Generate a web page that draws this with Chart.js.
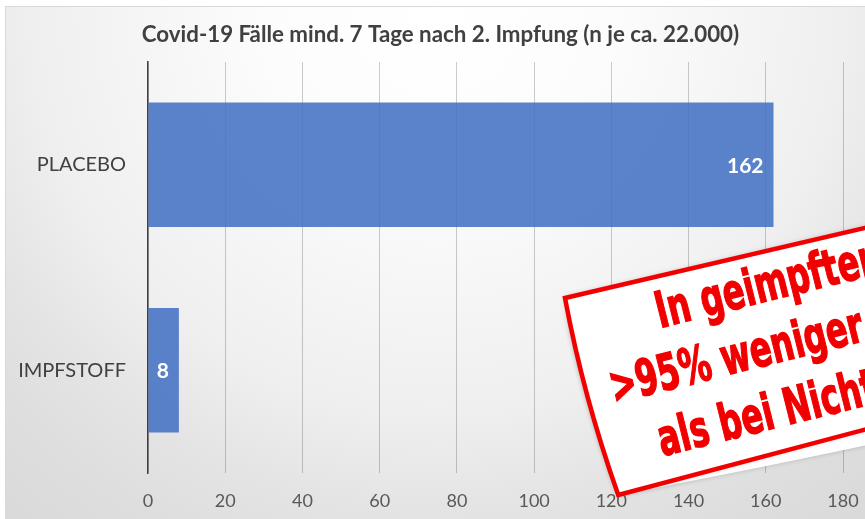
<!DOCTYPE html>
<html>
<head>
<meta charset="utf-8">
<script src="https://cdn.jsdelivr.net/npm/chart.js@4"></script>
<style>
  html, body { margin: 0; padding: 0; overflow: hidden; background: #fff; }
  #frame { position: absolute; left: 5px; top: 6px; width: 880px; height: 520px; border: 1px solid #d9d9d9; }
</style>
</head>
<body>
<div id="frame"><canvas id="chart" width="880" height="520"></canvas></div>
<script>
const categories = ['PLACEBO', 'IMPFSTOFF'];
const cases = [162, 8];
const xTicks = [0, 20, 40, 60, 80, 100, 120, 140, 160, 180];
const chartTitle = 'Covid-19 Fälle mind. 7 Tage nach 2. Impfung (n je ca. 22.000)';
const stampLines = ['In geimpfter', '>95% weniger', 'als bei Nicht'];

// light radial background like the office chart style
const backgroundPlugin = {
  id: 'bg',
  beforeDraw(chart) {
    const ctx = chart.ctx;
    const w = chart.width, h = chart.height;
    const g = ctx.createRadialGradient(w * 0.49, 0, 0, w * 0.49, 0, 700);
    g.addColorStop(0, '#ffffff');
    g.addColorStop(0.25, '#fcfcfc');
    g.addColorStop(0.58, '#efefef');
    g.addColorStop(0.72, '#e4e4e4');
    g.addColorStop(0.83, '#dedede');
    g.addColorStop(1, '#d8d8d8');
    ctx.save();
    ctx.fillStyle = g;
    ctx.fillRect(0, 0, w, h);
    ctx.restore();
  }
};

// title centred on the whole frame, not on the plot
const titlePlugin = {
  id: 'frameTitle',
  afterDraw(chart) {
    const ctx = chart.ctx;
    ctx.save();
    ctx.font = 'bold 22.3px Lato';
    ctx.fillStyle = '#404040';
    ctx.textAlign = 'center';
    ctx.textBaseline = 'middle';
    ctx.fillText(chartTitle, chart.width / 2 - 5.5, chart.chartArea.top - 27.5);
    ctx.restore();
  }
};

// value labels inside the bar end
const valueLabels = {
  id: 'valueLabels',
  afterDatasetsDraw(chart) {
    const ctx = chart.ctx;
    const meta = chart.getDatasetMeta(0);
    ctx.save();
    ctx.font = 'bold 21px Lato';
    ctx.fillStyle = '#ffffff';
    ctx.textAlign = 'right';
    ctx.textBaseline = 'middle';
    meta.data.forEach((bar, i) => {
      ctx.fillText(String(cases[i]), bar.x - 10, bar.y + 1);
    });
    ctx.restore();
  }
};

// the red "stamp" pasted over the lower right corner
const stampPlugin = {
  id: 'stamp',
  afterDraw(chart) {
    const ctx = chart.ctx;
    const area = chart.chartArea;
    ctx.save();
    ctx.translate(area.left + 417, area.top + 236);
    ctx.rotate(-14 * Math.PI / 180);

    // curled paper edge below the stamp
    ctx.beginPath();
    ctx.moveTo(4, 204);
    ctx.quadraticCurveTo(-8, 100, -2, 10);
    ctx.lineTo(4, 204);
    ctx.moveTo(4, 204);
    ctx.quadraticCurveTo(200, 215, 340, 218);
    ctx.lineTo(340, 199);
    ctx.closePath();
    ctx.shadowColor = 'rgba(0,0,0,0.2)';
    ctx.shadowBlur = 5;
    ctx.fillStyle = '#ffffff';
    ctx.fill();

    ctx.beginPath();
    ctx.moveTo(0, 0);
    ctx.lineTo(340, 5);
    ctx.lineTo(340, 199);
    ctx.lineTo(4, 204);
    ctx.quadraticCurveTo(-6, 100, 0, 0);
    ctx.closePath();
    ctx.shadowColor = 'rgba(0,0,0,0.25)';
    ctx.shadowBlur = 6;
    ctx.fill();
    ctx.shadowColor = 'transparent';
    ctx.lineWidth = 4.5;
    ctx.strokeStyle = '#f20000';
    ctx.stroke();

    ctx.fillStyle = '#f20000';
    ctx.strokeStyle = '#f20000';
    ctx.lineWidth = 1.5;
    ctx.font = 'bold 50px "DejaVu Sans"';
    ctx.textBaseline = 'alphabetic';
    const pos = [[85, 52], [22, 114], [56, 177]];
    stampLines.forEach((t, i) => {
      ctx.save();
      ctx.translate(pos[i][0], pos[i][1]);
      ctx.scale(0.64, 1);
      ctx.fillText(t, 0, 0);
      ctx.strokeText(t, 0, 0);
      ctx.restore();
    });
    ctx.restore();
  }
};

new Chart(document.getElementById('chart').getContext('2d'), {
  type: 'bar',
  data: {
    labels: categories,
    datasets: [{
      data: cases,
      backgroundColor: 'rgba(68, 114, 196, 0.88)',
      borderWidth: 0,
      categoryPercentage: 1,
      barPercentage: 0.605
    }]
  },
  options: {
    indexAxis: 'y',
    responsive: false,
    animation: false,
    layout: { padding: { left: 0, right: 43, top: 55, bottom: 0 } },
    plugins: {
      legend: { display: false },
      tooltip: { enabled: false },
      title: { display: false }
    },
    scales: {
      x: {
        min: 0,
        max: 180,
        afterBuildTicks(scale) {
          scale.ticks = xTicks.map(v => ({ value: v }));
        },
        afterFit(scale) { scale.height = 54; },
        grid: { color: 'rgba(0,0,0,0.2)', lineWidth: 1, drawTicks: false },
        border: { display: false },
        ticks: { color: '#595959', padding: 17, font: { family: 'Lato', size: 18 } }
      },
      y: {
        afterFit(scale) { scale.width = 142; },
        grid: { display: false, drawTicks: false },
        border: { display: true, color: '#404040', width: 1.5 },
        ticks: { color: '#404040', padding: 22, font: { family: 'Lato', size: 20 } }
      }
    }
  },
  plugins: [backgroundPlugin, titlePlugin, valueLabels, stampPlugin]
});
</script>
</body>
</html>
